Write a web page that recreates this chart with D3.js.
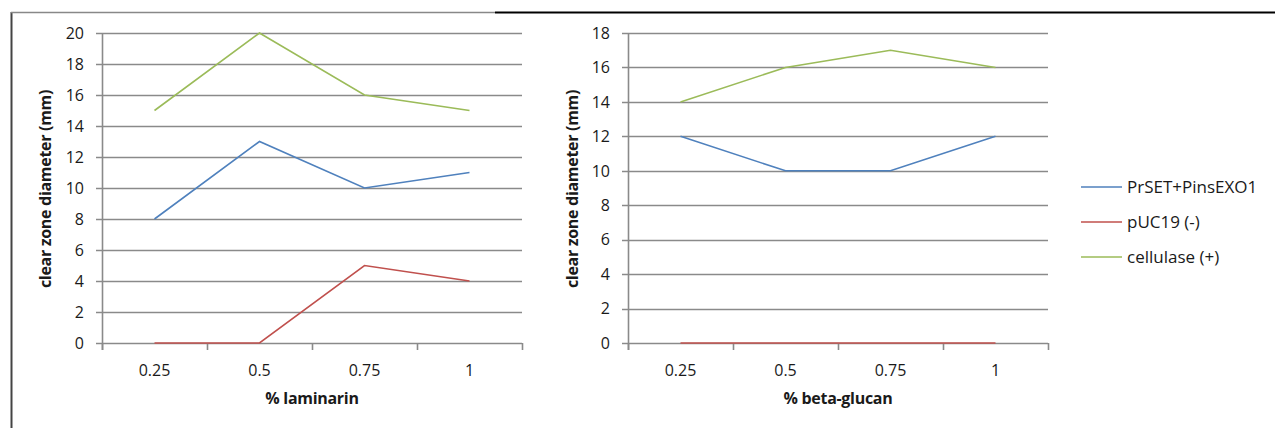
<!DOCTYPE html>
<html><head><meta charset="utf-8">
<script src="https://cdn.jsdelivr.net/npm/d3@7"></script>
<style>body{margin:0;background:#fff}svg{display:block}text{font-family:"Open Sans",Lato,sans-serif;fill:#1a1a1a}</style>
</head><body>
<svg id="c" width="1275" height="428"></svg>
<script>
const categories = ["0.25", "0.5", "0.75", "1"];
const seriesNames = ["PrSET+PinsEXO1", "pUC19 (-)", "cellulase (+)"];
const seriesColors = ["#4F81BD", "#C0504D", "#9BBB59"];
const laminarinPrSET = [8, 13, 10, 11];
const laminarinPUC19 = [0, 0, 5, 4];
const laminarinCellulase = [15, 20, 16, 15];
const glucanPrSET = [12, 10, 10, 12];
const glucanPUC19 = [0, 0, 0, 0];
const glucanCellulase = [14, 16, 17, 16];
const laminarinTicks = [0, 2, 4, 6, 8, 10, 12, 14, 16, 18, 20];
const glucanTicks = [0, 2, 4, 6, 8, 10, 12, 14, 16, 18];

const svg = d3.select("#c");
// frame
svg.append("line").attr("x1",11.5).attr("x2",11.5).attr("y1",12).attr("y2",428).attr("stroke","#444").attr("stroke-width",2);
svg.append("line").attr("x1",11).attr("x2",495).attr("y1",12.5).attr("y2",12.5).attr("stroke","#888").attr("stroke-width",1.5);
svg.append("line").attr("x1",495).attr("x2",1275).attr("y1",12.5).attr("y2",12.5).attr("stroke","#000").attr("stroke-width",2);

function panel(x0, x1, yMax, ticks, series, xTitle, yTitleX) {
  const x = d3.scaleBand().domain(categories).range([x0, x1]);
  const y = d3.scaleLinear().domain([0, yMax]).range([343, 33]);
  const g = svg.append("g");
  // gridlines
  g.selectAll(".grid").data(ticks).join("line")
    .attr("x1", x0 - 6).attr("x2", x1).attr("y1", d => Math.round(y(d)) + 0.5).attr("y2", d => Math.round(y(d)) + 0.5)
    .attr("stroke", "#8a8a8a").attr("stroke-width", 1.6);
  // y axis line
  g.append("line").attr("x1", x0 + 0.5).attr("x2", x0 + 0.5).attr("y1", y(yMax)).attr("y2", 350)
    .attr("stroke", "#8a8a8a").attr("stroke-width", 1.6);
  // x ticks
  const xt = categories.map(c => x(c)).concat([x1]);
  g.selectAll(".xt").data(xt).join("line")
    .attr("x1", d => Math.round(d) + 0.5).attr("x2", d => Math.round(d) + 0.5).attr("y1", 343).attr("y2", 350)
    .attr("stroke", "#8a8a8a").attr("stroke-width", 1.6);
  // y labels
  g.selectAll(".yl").data(ticks).join("text")
    .attr("x", x0 - 18).attr("y", d => y(d)).attr("dy", "0.36em").attr("text-anchor", "end")
    .attr("font-size", 16).text(d => d);
  // x labels
  g.selectAll(".xl").data(categories).join("text")
    .attr("x", d => x(d) + x.bandwidth() / 2).attr("y", 376).attr("text-anchor", "middle")
    .attr("font-size", 16).text(d => d);
  // titles
  g.append("text").attr("x", (x0 + x1) / 2).attr("y", 404).attr("text-anchor", "middle")
    .attr("font-size", 16).attr("font-weight", "bold").attr("letter-spacing", "-0.3").text(xTitle);
  g.append("text").attr("transform", `translate(${yTitleX},189) rotate(-90)`).attr("text-anchor", "middle")
    .attr("dy", "0.35em").attr("font-size", 16).attr("font-weight", "bold").attr("letter-spacing", "-0.3").text("clear zone diameter (mm)");
  // lines
  const line = d3.line().x((d, i) => x(categories[i]) + x.bandwidth() / 2).y(d => y(d));
  series.forEach((s, i) => {
    g.append("path").attr("d", line(s)).attr("fill", "none").attr("stroke", seriesColors[i]).attr("stroke-width", 1.6);
  });
}

panel(102, 522, 20, laminarinTicks, [laminarinPrSET, laminarinPUC19, laminarinCellulase], "% laminarin", 45);
panel(628, 1048, 18, glucanTicks, [glucanPrSET, glucanPUC19, glucanCellulase], "% beta-glucan", 572);

// legend
const leg = svg.append("g");
const legY = [187, 222, 257];
seriesNames.forEach((n, i) => {
  leg.append("line").attr("x1", 1081).attr("x2", 1122).attr("y1", legY[i]).attr("y2", legY[i])
    .attr("stroke", seriesColors[i]).attr("stroke-width", 1.6);
  leg.append("text").attr("x", 1127).attr("y", legY[i]).attr("dy", "0.36em").attr("font-size", 17).text(n);
});
</script>
</body></html>
